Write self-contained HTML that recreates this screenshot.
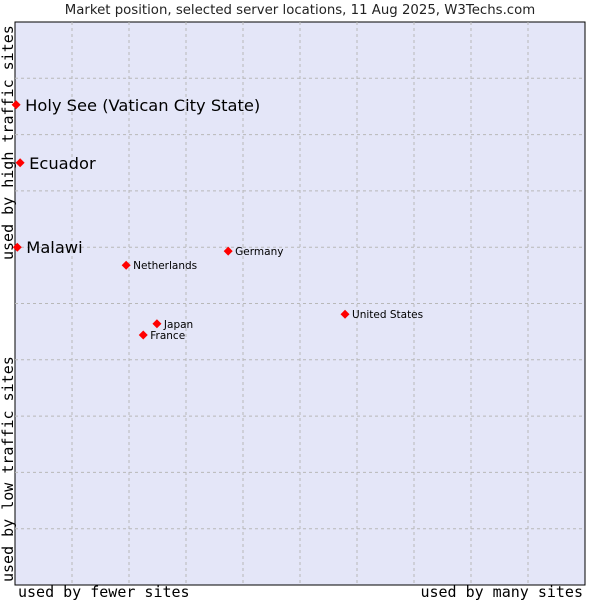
<!DOCTYPE html>
<html><head><meta charset="utf-8"><style>
body{margin:0;background:#fff;width:600px;height:600px;overflow:hidden}
svg{display:block}
</style></head><body>
<svg id="chart" width="600" height="600" xmlns="http://www.w3.org/2000/svg">
<text x="300" y="14" text-anchor="middle" font-family="DejaVu Sans, sans-serif" font-size="13.3" fill="#222">Market position, selected server locations, 11 Aug 2025, W3Techs.com</text>
<rect x="15" y="22" width="570" height="563" fill="#e4e6f8" stroke="#000" stroke-width="1"/>
<g id="grid"></g>
<text x="18" y="597" font-family="DejaVu Sans Mono, monospace" font-size="15" fill="#000">used by fewer sites</text>
<text x="583" y="597" text-anchor="end" font-family="DejaVu Sans Mono, monospace" font-size="15" fill="#000">used by many sites</text>
<text transform="translate(13,582) rotate(-90)" font-family="DejaVu Sans Mono, monospace" font-size="15" fill="#000">used by low traffic sites</text>
<text transform="translate(13,260) rotate(-90)" font-family="DejaVu Sans Mono, monospace" font-size="15" fill="#000">used by high traffic sites</text>
<g id="points"></g>
</svg>
<script>
const countries=["Holy See (Vatican City State)","Ecuador","Malawi","Netherlands","Germany","United States","Japan","France"];
const xValues=[0.2,0.9,0.4,19.5,37.4,57.9,24.9,22.5];
const yValues=[85.3,75,60,56.8,59.3,48.1,46.4,44.4];
const highlighted=[true,true,true,false,false,false,false,false];
const L=15,T=22,W=570,H=563;
const xs=v=>L+v/100*W, ys=v=>T+H-v/100*H;
const NS="http://www.w3.org/2000/svg";
const grid=document.getElementById('grid');
for(let i=1;i<10;i++){
  const gx=document.createElementNS(NS,'line');
  gx.setAttribute('x1',xs(i*10));gx.setAttribute('x2',xs(i*10));gx.setAttribute('y1',T);gx.setAttribute('y2',T+H);
  gx.setAttribute('stroke','#b8b8b8');gx.setAttribute('stroke-dasharray','3,3');
  
  
  grid.appendChild(gx);
  const gy=document.createElementNS(NS,'line');
  gy.setAttribute('y1',ys(i*10));gy.setAttribute('y2',ys(i*10));gy.setAttribute('x1',L);gy.setAttribute('x2',L+W);
  gy.setAttribute('stroke','#b8b8b8');gy.setAttribute('stroke-dasharray','3,3');
  
  
  grid.appendChild(gy);
}
const pts=document.getElementById('points');
countries.forEach((c,i)=>{
  const cx=xs(xValues[i]),cy=ys(yValues[i]);
  const m=document.createElementNS(NS,'path');
  m.setAttribute('d',`M${cx-4.5},${cy}L${cx},${cy-4.5}L${cx+4.5},${cy}L${cx},${cy+4.5}Z`);
  m.setAttribute('fill','#f00');
  
  
  pts.appendChild(m);
  const t=document.createElementNS(NS,'text');
  const big=highlighted[i];
  t.setAttribute('x',cx+(big?9:7));t.setAttribute('y',cy+(big?6:4));
  t.setAttribute('font-family','DejaVu Sans, sans-serif');
  t.setAttribute('font-size',big?'16.3':'10.5');
  t.setAttribute('fill','#000');
  t.textContent=c;
  
  
  pts.appendChild(t);
});
</script>
</body></html>
